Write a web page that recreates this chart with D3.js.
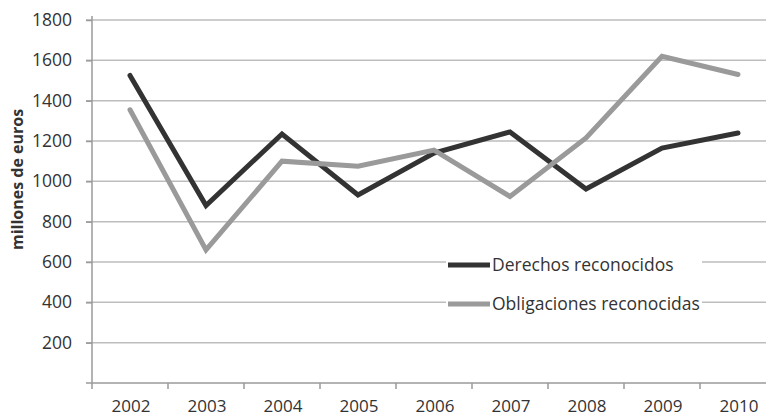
<!DOCTYPE html>
<html>
<head>
<meta charset="utf-8">
<script src="https://cdn.jsdelivr.net/npm/d3@7"></script>
<style>
  html, body { margin: 0; padding: 0; background: #fff; }
  svg { display: block; }
  text { font-family: "Open Sans", "Noto Sans", sans-serif; fill: #333; }
</style>
</head>
<body>
<svg id="chart" width="766" height="418"></svg>
<script>
// Years on the horizontal axis
const years = ["2002", "2003", "2004", "2005", "2006", "2007", "2008", "2009", "2010"];
// Millions of euros per year
const derechos = [1525, 880, 1235, 932, 1140, 1245, 962, 1165, 1240];
const obligaciones = [1355, 660, 1100, 1075, 1155, 925, 1215, 1620, 1530];
const seriesNames = ["Derechos reconocidos", "Obligaciones reconocidas"];
const yTicks = [200, 400, 600, 800, 1000, 1200, 1400, 1600, 1800];

const svg = d3.select("#chart");
const plotLeft = 92, plotTop = 20, plotBottom = 383, band = 76;

const x = d3.scaleBand().domain(years).range([plotLeft, plotLeft + band * years.length]);
const y = d3.scaleLinear().domain([0, 1800]).range([plotBottom, plotTop]);

// Horizontal gridlines
svg.append("g")
  .selectAll("line")
  .data(yTicks)
  .join("line")
  .attr("x1", plotLeft - 6).attr("x2", 766)
  .attr("y1", d => y(d)).attr("y2", d => y(d))
  .attr("stroke", "#bdbdbd").attr("stroke-width", 1.5);

// Y axis
const yAxis = svg.append("g")
  .attr("transform", `translate(${plotLeft},0)`)
  .call(d3.axisLeft(y).tickValues(yTicks).tickSize(6).tickPadding(14).tickFormat(d3.format("d")));
yAxis.select(".domain").remove();
yAxis.append("line").attr("x1", 0).attr("x2", 0).attr("y1", plotTop - 4).attr("y2", plotBottom + 6)
  .attr("stroke", "#9a9a9a").attr("stroke-width", 1.5);
yAxis.selectAll(".tick line").attr("stroke", "#9a9a9a").attr("stroke-width", 1.5);
yAxis.selectAll(".tick text").attr("font-size", 17.5).attr("fill", "#333")
  .style("font-family", "'Open Sans', sans-serif");

// X axis: ticks at band boundaries, labels at band centres
const xg = svg.append("g").attr("transform", `translate(0,${plotBottom})`);
xg.append("line").attr("x1", plotLeft - 6).attr("x2", 766).attr("y1", 0).attr("y2", 0)
  .attr("stroke", "#9a9a9a").attr("stroke-width", 1.5);
xg.selectAll(".xt")
  .data(years)
  .join("line")
  .attr("class", "xt")
  .attr("x1", d => x(d) + band).attr("x2", d => x(d) + band)
  .attr("y1", 0).attr("y2", 6)
  .attr("stroke", "#9a9a9a").attr("stroke-width", 1.5);
xg.selectAll("text")
  .data(years)
  .join("text")
  .attr("x", d => x(d) + x.bandwidth() / 2 + 1)
  .attr("y", 29)
  .attr("text-anchor", "middle")
  .attr("font-size", 17)
  .text(d => d);

// Y axis title
svg.append("text")
  .attr("transform", `translate(23,${(plotTop + plotBottom) / 2 - 22}) rotate(-90)`)
  .attr("text-anchor", "middle")
  .attr("font-size", 16)
  .attr("font-weight", "bold")
  .text("millones de euros");

// Lines
const line = d3.line()
  .x((d, i) => x(years[i]) + x.bandwidth() / 2)
  .y(d => y(d));

const colors = ["#333333", "#9a9a9a"];
[derechos, obligaciones].forEach((s, k) => {
  svg.append("path")
    .datum(s)
    .attr("d", line)
    .attr("fill", "none")
    .attr("stroke", colors[k])
    .attr("stroke-width", 5)
    .attr("stroke-linejoin", "miter")
    .attr("stroke-linecap", "round");
});

// Legend
const lg = svg.append("g").attr("transform", "translate(446,252)");
lg.append("rect").attr("x", 0).attr("y", 0).attr("width", 256).attr("height", 64).attr("fill", "#fff");
seriesNames.forEach((name, k) => {
  const yy = 13 + k * 39;
  lg.append("line").attr("x1", 2).attr("x2", 44).attr("y1", yy).attr("y2", yy)
    .attr("stroke", colors[k]).attr("stroke-width", 5);
  lg.append("text").attr("x", 46).attr("y", yy + 6)
    .attr("font-size", 17.5)
    .attr("fill", "#3a3a3a")
    .text(name);
});
</script>
</body>
</html>
